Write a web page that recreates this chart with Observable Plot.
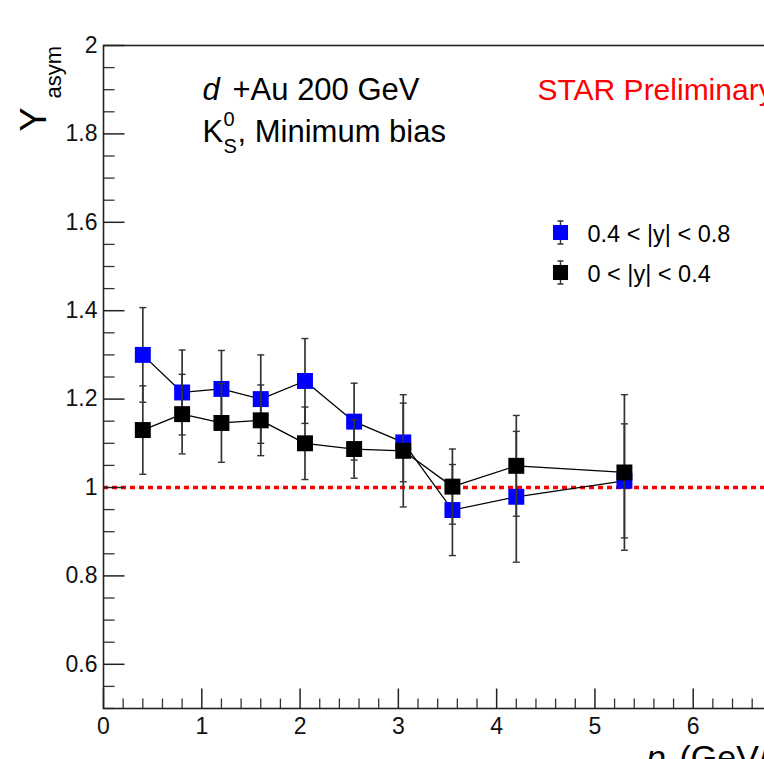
<!DOCTYPE html>
<html>
<head>
<meta charset="utf-8">
<script src="https://cdn.jsdelivr.net/npm/d3@7"></script>
<script src="https://cdn.jsdelivr.net/npm/@observablehq/plot@0.6"></script>
<style>
  html, body { margin: 0; padding: 0; background: #fff; overflow: hidden; }
  #chart { width: 820px; }
</style>
</head>
<body>
<div id="chart"></div>
<script>
// ---- data ----
const pt = [0.4, 0.8, 1.2, 1.6, 2.05, 2.55, 3.05, 3.55, 4.2, 5.3];
// 0.4 < |y| < 0.8 (blue)
const yasymHigh = [1.300, 1.215, 1.223, 1.200, 1.241, 1.149, 1.102, 0.949, 0.979, 1.015];
const errHigh   = [0.107, 0.096, 0.087, 0.100, 0.096, 0.087, 0.089, 0.103, 0.148, 0.129];
// 0 < |y| < 0.4 (black)
const yasymLow  = [1.130, 1.166, 1.146, 1.152, 1.100, 1.087, 1.083, 1.002, 1.049, 1.034];
const errLow    = [0.100, 0.090, 0.089, 0.080, 0.082, 0.066, 0.127, 0.085, 0.114, 0.176];

const seriesNames = ["0.4 < |y| < 0.8", "0 < |y| < 0.4"];
const seriesColors = ["#0000ff", "#000000"];

const xMajorTicks = [0, 1, 2, 3, 4, 5, 6, 7];
const xTickLabels = [0, 1, 2, 3, 4, 5, 6];
const yMajorTicks = [0.6, 0.8, 1.0, 1.2, 1.4, 1.6, 1.8, 2.0];
const xMinorTicks = d3.range(0, 35).map(i => i / 5).filter(v => Math.abs(v - Math.round(v)) > 1e-6);
const yMinorTicks = d3.range(10, 41).map(i => i / 20).filter(v => Math.abs(v * 5 - Math.round(v * 5)) > 1e-6);

const high = pt.map((x, i) => ({x, y: yasymHigh[i], lo: yasymHigh[i] - errHigh[i], hi: yasymHigh[i] + errHigh[i]}));
const low  = pt.map((x, i) => ({x, y: yasymLow[i],  lo: yasymLow[i]  - errLow[i],  hi: yasymLow[i]  + errLow[i]}));

// ---- custom symbols (pixel-sized tick/cap glyphs) ----
const capSym   = {draw(c) { c.moveTo(-3.5, 0); c.lineTo(3.5, 0); }};
const yMajSym  = {draw(c) { c.moveTo(0, 0); c.lineTo(21, 0); }};
const yMinSym  = {draw(c) { c.moveTo(0, 0); c.lineTo(11, 0); }};
const xMajSym  = {draw(c) { c.moveTo(0, 0); c.lineTo(0, -20); }};
const xMinSym  = {draw(c) { c.moveTo(0, 0); c.lineTo(0, -10); }};
const legErrSym = {draw(c) {
  c.moveTo(0, -11.5); c.lineTo(0, 11.5);
  c.moveTo(-3, -11.5); c.lineTo(3, -11.5);
  c.moveTo(-3, 11.5); c.lineTo(3, 11.5);
}};

const errStroke = "#333";
const font = "'Liberation Sans', Arial, Helvetica, sans-serif";
const fmt = d => String(+d.toFixed(1));

function seriesMarks(data, color) {
  return [
    Plot.ruleX(data, {x: "x", y1: "lo", y2: "hi", stroke: errStroke, strokeWidth: 1.7}),
    Plot.dot(data, {x: "x", y: "lo", symbol: capSym, fill: "none", stroke: errStroke, strokeWidth: 1.4}),
    Plot.dot(data, {x: "x", y: "hi", symbol: capSym, fill: "none", stroke: errStroke, strokeWidth: 1.4}),
    Plot.line(data, {x: "x", y: "y", stroke: "#000", strokeWidth: 1.3}),
    Plot.dot(data, {x: "x", y: "y", symbol: "square", r: 9, fill: color, stroke: "none"})
  ];
}

const chart = Plot.plot({
  width: 820,
  height: 780,
  marginLeft: 103,
  marginRight: 29,
  marginTop: 45,
  marginBottom: 72,
  style: {fontFamily: font, background: "#fff", overflow: "visible"},
  x: {domain: [0, 7], axis: null},
  y: {domain: [0.5, 2], axis: null},
  marks: [
    // reference line
    Plot.ruleY([1], {stroke: "#ff0000", strokeWidth: 3.5, strokeDasharray: "5,4"}),
    // ticks
    Plot.dot(yMajorTicks, {y: d => d, frameAnchor: "left", symbol: yMajSym, fill: "none", stroke: "#222", strokeWidth: 1.5}),
    Plot.dot(yMinorTicks, {y: d => d, frameAnchor: "left", symbol: yMinSym, fill: "none", stroke: "#333", strokeWidth: 1.3}),
    Plot.dot(xMajorTicks, {x: d => d, frameAnchor: "bottom", symbol: xMajSym, fill: "none", stroke: "#222", strokeWidth: 1.5}),
    Plot.dot(xMinorTicks, {x: d => d, frameAnchor: "bottom", symbol: xMinSym, fill: "none", stroke: "#333", strokeWidth: 1.3}),
    // tick labels
    Plot.text(yMajorTicks, {y: d => d, text: fmt, frameAnchor: "left", textAnchor: "end", lineAnchor: "middle", dx: -6, fontSize: 23, fill: "#111"}),
    Plot.text(xTickLabels, {x: d => d, text: fmt, frameAnchor: "bottom", textAnchor: "middle", lineAnchor: "middle", dy: 18, fontSize: 23, fill: "#111"}),
    // series
    ...seriesMarks(high, seriesColors[0]),
    ...seriesMarks(low, seriesColors[1]),
    // frame
    Plot.frame({stroke: "#222", strokeWidth: 1.6}),
    // axis titles
    Plot.text(["Y"], {text: d => d, frameAnchor: "top-left", rotate: -90, textAnchor: "start", lineAnchor: "bottom", dx: -58, dy: 86, fontSize: 36, fill: "#000"}),
    Plot.text(["asym"], {text: d => d, frameAnchor: "top-left", rotate: -90, textAnchor: "start", lineAnchor: "bottom", dx: -43, dy: 53, fontSize: 22, fill: "#000"}),
    Plot.text(["p"], {text: d => d, frameAnchor: "bottom-left", textAnchor: "start", lineAnchor: "bottom", dx: 543, dy: 60, fontSize: 34, fontStyle: "italic", fill: "#000"}),
    Plot.text(["T"], {text: d => d, frameAnchor: "bottom-left", textAnchor: "start", lineAnchor: "bottom", dx: 561, dy: 70, fontSize: 20, fill: "#000"}),
    Plot.text(["(GeV/c)"], {text: d => d, frameAnchor: "bottom-left", textAnchor: "start", lineAnchor: "bottom", dx: 576, dy: 60, fontSize: 34, fill: "#000"}),
    // annotations
    Plot.text(["d"], {text: d => d, frameAnchor: "top-left", textAnchor: "start", lineAnchor: "bottom", dx: 99, dy: 54, fontSize: 31, fontStyle: "italic", fill: "#000"}),
    Plot.text(["+Au 200 GeV"], {text: d => d, frameAnchor: "top-left", textAnchor: "start", lineAnchor: "bottom", dx: 129, dy: 54, fontSize: 31, fill: "#000"}),
    Plot.text(["K"], {text: d => d, frameAnchor: "top-left", textAnchor: "start", lineAnchor: "bottom", dx: 99, dy: 96, fontSize: 31, fill: "#000"}),
    Plot.text(["0"], {text: d => d, frameAnchor: "top-left", textAnchor: "start", lineAnchor: "bottom", dx: 120, dy: 80, fontSize: 20, fill: "#000"}),
    Plot.text(["S"], {text: d => d, frameAnchor: "top-left", textAnchor: "start", lineAnchor: "bottom", dx: 120, dy: 107, fontSize: 20, fill: "#000"}),
    Plot.text([", Minimum bias"], {text: d => d, frameAnchor: "top-left", textAnchor: "start", lineAnchor: "bottom", dx: 134, dy: 96, fontSize: 31, fill: "#000"}),
    Plot.text(["STAR Preliminary"], {text: d => d, frameAnchor: "top-left", textAnchor: "start", lineAnchor: "bottom", dx: 434, dy: 54, fontSize: 30, fill: "#ff0000"}),
    // legend
    Plot.dot([0], {frameAnchor: "top-left", dx: 457, dy: 187, symbol: legErrSym, fill: "none", stroke: errStroke, strokeWidth: 1.4}),
    Plot.dot([0], {frameAnchor: "top-left", dx: 457, dy: 187, symbol: "square", r: 8.5, fill: seriesColors[0], stroke: "none"}),
    Plot.dot([0], {frameAnchor: "top-left", dx: 457, dy: 227, symbol: legErrSym, fill: "none", stroke: errStroke, strokeWidth: 1.4}),
    Plot.dot([0], {frameAnchor: "top-left", dx: 457, dy: 227, symbol: "square", r: 8.5, fill: seriesColors[1], stroke: "none"}),
    Plot.text([seriesNames[0]], {text: d => d, frameAnchor: "top-left", textAnchor: "start", lineAnchor: "bottom", dx: 484, dy: 196, fontSize: 23.5, fill: "#000"}),
    Plot.text([seriesNames[1]], {text: d => d, frameAnchor: "top-left", textAnchor: "start", lineAnchor: "bottom", dx: 484, dy: 236, fontSize: 23.5, fill: "#000"})
  ]
});
document.getElementById("chart").append(chart);
</script>
</body>
</html>
